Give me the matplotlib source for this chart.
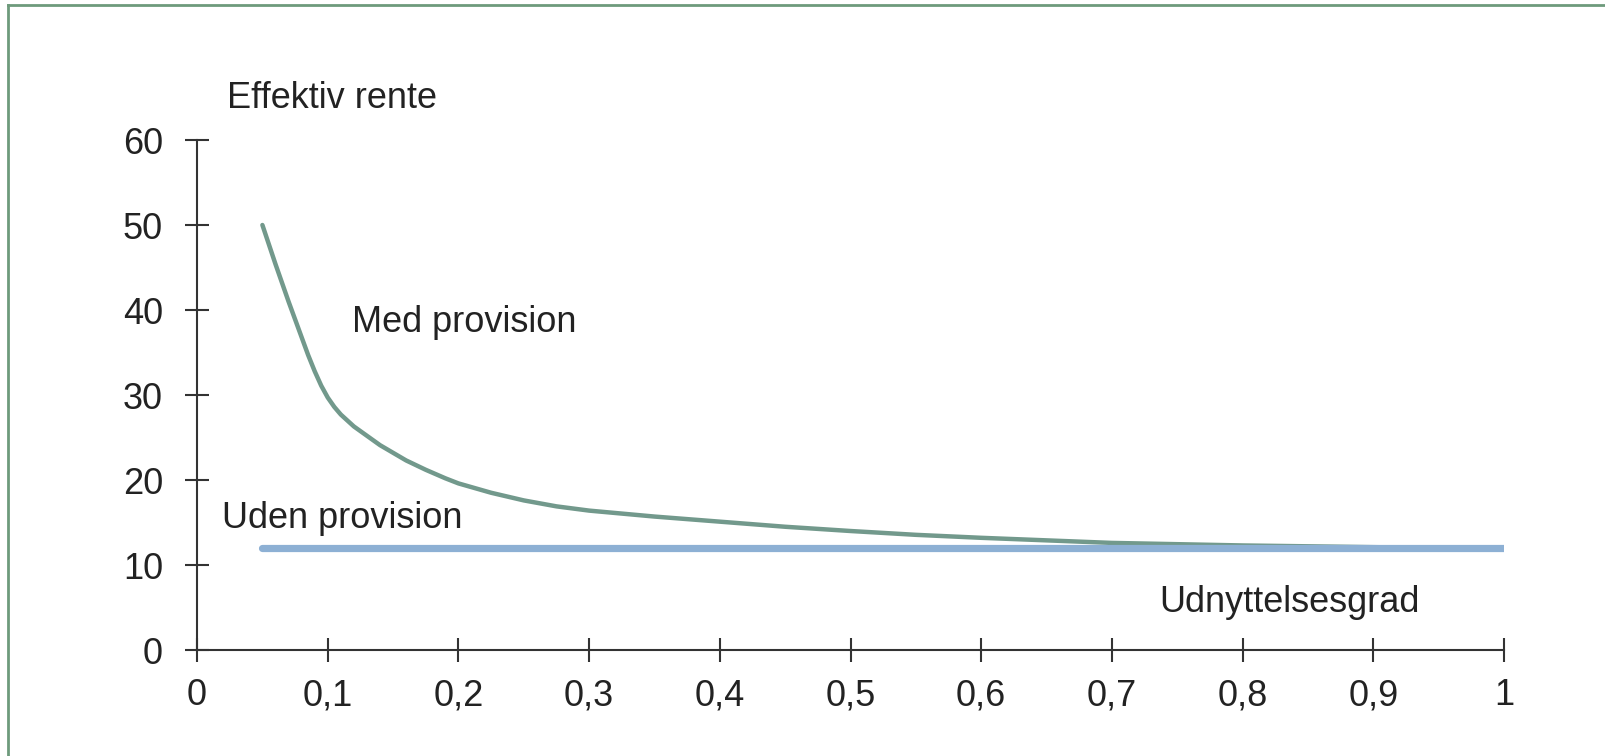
import matplotlib
matplotlib.use("Agg")
import matplotlib.pyplot as plt
from matplotlib.lines import Line2D

plt.rcParams["font.family"] = ["Liberation Sans", "DejaVu Sans"]

# Utilisation degree (x) and effective rate (%)
x_med = [0.05, 0.06, 0.07, 0.08, 0.085, 0.09, 0.095, 0.10, 0.105, 0.11, 0.12,
         0.13, 0.14, 0.15, 0.16, 0.175, 0.19, 0.20, 0.225, 0.25, 0.275, 0.30,
         0.35, 0.40, 0.45, 0.50, 0.55, 0.60, 0.65, 0.70, 0.75, 0.80, 0.85,
         0.90, 0.95, 1.00]
y_med = [50.0, 45.4, 41.0, 36.8, 34.7, 32.8, 31.1, 29.7, 28.6, 27.7, 26.3,
         25.2, 24.1, 23.2, 22.3, 21.2, 20.2, 19.6, 18.5, 17.6, 16.9, 16.4,
         15.7, 15.1, 14.5, 14.0, 13.55, 13.2, 12.9, 12.6, 12.45, 12.3, 12.2,
         12.1, 12.0, 12.0]
x_uden = [0.05, 1.0]
y_uden = [12.0, 12.0]

xticks = [0, 0.1, 0.2, 0.3, 0.4, 0.5, 0.6, 0.7, 0.8, 0.9, 1]
xticklabels = ["0", "0,1", "0,2", "0,3", "0,4", "0,5", "0,6", "0,7", "0,8", "0,9", "1"]
yticks = [0, 10, 20, 30, 40, 50, 60]

GREEN = "#72998c"
BLUE = "#8db0d4"
AXCOL = "#333333"
FS = 26

fig = plt.figure(figsize=(16.06, 7.56), dpi=100)
ax = fig.add_axes([0.1227, 0.1402, 0.8138, 0.6746])

ax.plot(x_med, y_med, color=GREEN, lw=3.2, solid_capstyle="round",
        solid_joinstyle="round", zorder=2)
ax.plot(x_uden, y_uden, color=BLUE, lw=5.2, solid_capstyle="round", zorder=3)

ax.set_xlim(0, 1)
ax.set_ylim(0, 60)
ax.set_xticks(xticks)
ax.set_xticklabels(xticklabels)
ax.set_yticks(yticks)
for s in ["top", "right"]:
    ax.spines[s].set_visible(False)
for s in ["left", "bottom"]:
    ax.spines[s].set_color(AXCOL)
    ax.spines[s].set_linewidth(1.5)
ax.tick_params(direction="inout", length=17, width=1.5, color=AXCOL,
               labelsize=FS, labelcolor="#222222")
ax.tick_params(axis="x", pad=12)
ax.tick_params(axis="y", pad=16)

ax.text(0.023, 63.8, "Effektiv rente", fontsize=FS, color="#222222",
        va="baseline", ha="left", clip_on=False)
ax.text(0.1186, 37.4, "Med provision", fontsize=FS, color="#222222",
        va="baseline", ha="left")
ax.text(0.019, 14.35, "Uden provision", fontsize=FS, color="#222222",
        va="baseline", ha="left")
ax.text(0.736, 4.47, "Udnyttelsesgrad", fontsize=FS, color="#222222",
        va="baseline", ha="left")

# frame lines (top and left only)
fig.add_artist(Line2D([8 / 1606, 1.0], [1 - 5 / 756, 1 - 5 / 756],
                      transform=fig.transFigure, color="#6e9a7c", lw=2))
fig.add_artist(Line2D([8 / 1606, 8 / 1606], [0.0, 1 - 5 / 756],
                      transform=fig.transFigure, color="#6e9a7c", lw=2))

fig.savefig("out.png", dpi=100)
